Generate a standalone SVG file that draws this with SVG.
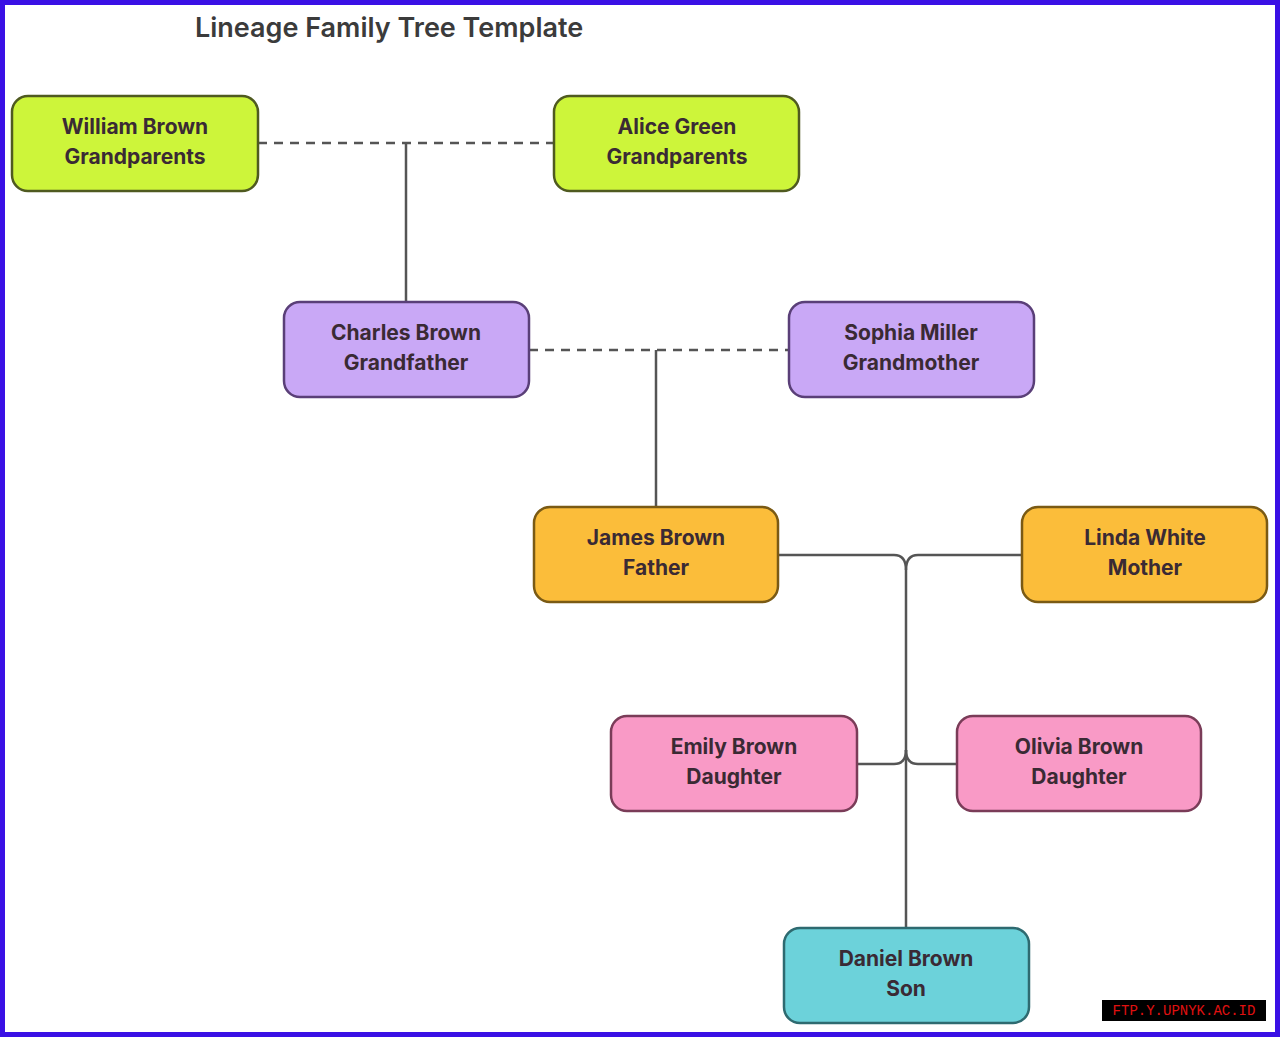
<svg xmlns="http://www.w3.org/2000/svg" width="1280" height="1037" viewBox="0 0 1280 1037">
<style>
.n rect{stroke-width:2.5}
.n text{font-family:Inter,"Liberation Sans",sans-serif;font-weight:700;font-size:21px;fill:#3a2a34;text-anchor:middle}
.g rect{fill:#cdf53a;stroke:#4f5a20}
.p rect{fill:#c9a8f6;stroke:#5a3f78}
.o rect{fill:#fbbd3a;stroke:#7a5a14}
.k rect{fill:#f99ac6;stroke:#7a3c58}
.t rect{fill:#6cd2da;stroke:#2e6a70}
#c path{fill:none;stroke:#555;stroke-width:2.5}
#c .d{stroke-dasharray:9 7}
</style>
<rect x="2.5" y="2.5" width="1275" height="1032" fill="#fff" stroke="#3a10e5" stroke-width="5"/>
<text x="195" y="37" font-family="Inter,'Liberation Sans',sans-serif" font-weight="600" font-size="27" fill="#3b3b3b">Lineage Family Tree Template</text>
<g id="c">
<path class="d" d="M258 143H554"/>
<path d="M406 143V302"/>
<path class="d" d="M529 350H789"/>
<path d="M656 350V507"/>
<path d="M778 555H894Q906 555 906 570V928"/>
<path d="M1022 555H918Q906 555 906 570"/>
<path d="M857 764H894Q906 764 906 750"/>
<path d="M957 764H918Q906 764 906 750"/>
</g>
<g id="william" class="n g"><rect x="12" y="96" width="246" height="95" rx="16"/><text x="135" y="134">William Brown</text><text x="135" y="164">Grandparents</text></g>
<g id="alice" class="n g"><rect x="554" y="96" width="245" height="95" rx="16"/><text x="677" y="134">Alice Green</text><text x="677" y="164">Grandparents</text></g>
<g id="charles" class="n p"><rect x="284" y="302" width="245" height="95" rx="16"/><text x="406" y="340">Charles Brown</text><text x="406" y="370">Grandfather</text></g>
<g id="sophia" class="n p"><rect x="789" y="302" width="245" height="95" rx="16"/><text x="911" y="340">Sophia Miller</text><text x="911" y="370">Grandmother</text></g>
<g id="james" class="n o"><rect x="534" y="507" width="244" height="95" rx="16"/><text x="656" y="545">James Brown</text><text x="656" y="575">Father</text></g>
<g id="linda" class="n o"><rect x="1022" y="507" width="245" height="95" rx="16"/><text x="1145" y="545">Linda White</text><text x="1145" y="575">Mother</text></g>
<g id="emily" class="n k"><rect x="611" y="716" width="246" height="95" rx="16"/><text x="734" y="754">Emily Brown</text><text x="734" y="784">Daughter</text></g>
<g id="olivia" class="n k"><rect x="957" y="716" width="244" height="95" rx="16"/><text x="1079" y="754">Olivia Brown</text><text x="1079" y="784">Daughter</text></g>
<g id="daniel" class="n t"><rect x="784" y="928" width="245" height="95" rx="16"/><text x="906" y="966">Daniel Brown</text><text x="906" y="996">Son</text></g>
<rect x="1102" y="1000" width="164" height="21" fill="#000"/>
<text x="1184" y="1015" font-family="'Liberation Mono',monospace" font-size="14" fill="#e01010" text-anchor="middle">FTP.Y.UPNYK.AC.ID</text>
</svg>
